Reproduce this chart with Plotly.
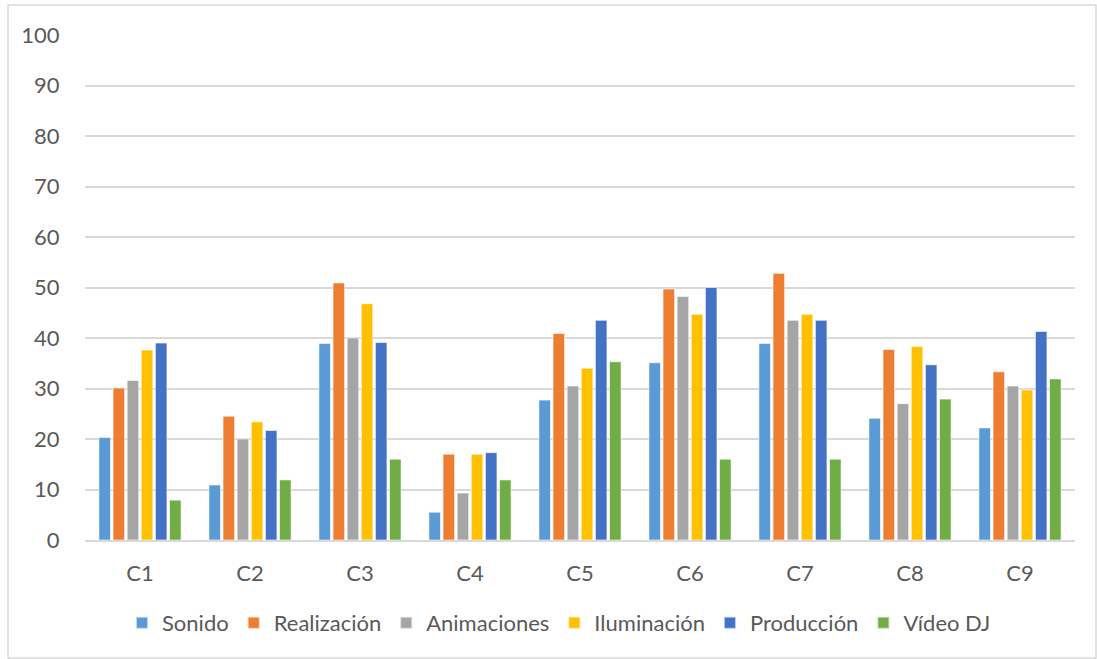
import plotly.graph_objects as go

categories = ["C1", "C2", "C3", "C4", "C5", "C6", "C7", "C8", "C9"]

sonido = [20.3, 10.9, 38.9, 5.5, 27.7, 35.1, 38.9, 24.1, 22.2]
realizacion = [30.1, 24.5, 50.9, 17.0, 40.9, 49.7, 52.8, 37.7, 33.3]
animaciones = [31.6, 20.0, 40.0, 9.3, 30.5, 48.2, 43.5, 27.0, 30.5]
iluminacion = [37.6, 23.4, 46.8, 17.0, 34.0, 44.7, 44.7, 38.3, 29.7]
produccion = [39.0, 21.7, 39.1, 17.3, 43.5, 50.0, 43.5, 34.7, 41.3]
video_dj = [7.9, 11.9, 16.0, 11.9, 35.3, 16.0, 16.0, 27.9, 31.9]

series = [
    ("Sonido", sonido, "#5B9BD5"),
    ("Realización", realizacion, "#ED7D31"),
    ("Animaciones", animaciones, "#A5A5A5"),
    ("Iluminación", iluminacion, "#FFC000"),
    ("Producción", produccion, "#4472C4"),
    ("Vídeo DJ", video_dj, "#70AD47"),
]

y_ticks = list(range(0, 101, 10))

FONT = "Lato, 'Open Sans', sans-serif"
TEXT = "#595959"
SIZE = 22

fig = go.Figure()
for name, vals, color in series:
    fig.add_trace(go.Bar(
        x=categories, y=vals, name=name,
        marker=dict(color=color, line=dict(color="rgba(255,255,255,0.6)", width=1)),
    ))

W, H = 1097, 659
L, R, T, B = 85, 22, 35, 119
pw, ph = W - L - R, H - T - B

def px_x(x):
    return (x - L) / pw

def px_y(y):
    return (H - B - y) / ph

fig.update_layout(
    width=W, height=H,
    margin=dict(l=L, r=R, t=T, b=B),
    paper_bgcolor="white", plot_bgcolor="white",
    barmode="group", bargap=0.23, bargroupgap=0.18,
    font=dict(family=FONT, size=SIZE, color=TEXT),
    showlegend=True,
    legend=dict(
        orientation="h", x=px_x(559), xanchor="center",
        y=px_y(623), yanchor="middle",
        font=dict(family=FONT, size=SIZE, color=TEXT),
        itemsizing="constant", traceorder="normal",
    ),
    xaxis=dict(
        showgrid=False, showline=True, linecolor="#D9D9D9", linewidth=1.5,
        ticks="outside", ticklen=13, tickcolor="rgba(0,0,0,0)",
        tickfont=dict(family=FONT, size=SIZE, color=TEXT),
    ),
    yaxis=dict(
        range=[0, 100], tickvals=y_ticks,
        showgrid=True, gridcolor="#D9D9D9", gridwidth=1.5,
        zeroline=False, showline=False,
        ticks="outside", ticklen=20, tickcolor="rgba(0,0,0,0)",
        tickfont=dict(family=FONT, size=SIZE, color=TEXT),
    ),
    shapes=[dict(
        type="rect", xref="paper", yref="paper",
        x0=px_x(8), x1=px_x(1096), y0=px_y(658), y1=px_y(5),
        line=dict(color="#D9D9D9", width=1.5), fillcolor="rgba(0,0,0,0)",
        layer="below",
    )],
)

fig.write_html("out.html")
